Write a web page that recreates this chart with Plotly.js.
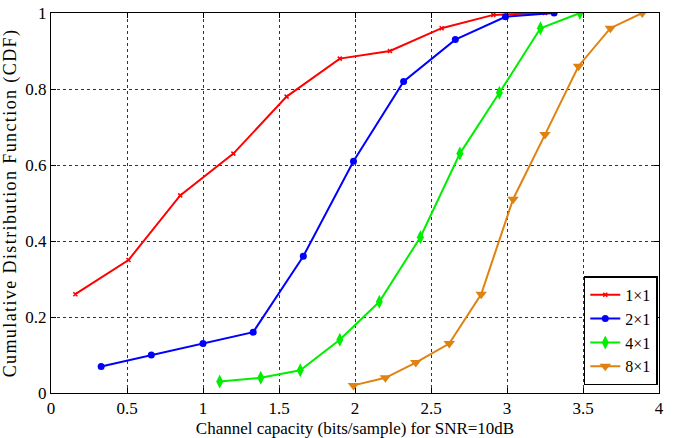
<!DOCTYPE html>
<html>
<head>
<meta charset="utf-8">
<script src="https://cdn.plot.ly/plotly-3.0.1.min.js"></script>
<style>
  html, body { margin: 0; padding: 0; background: #fff; }
  #chart { width: 676px; height: 438px; }
  .ytitle { letter-spacing: 1.4px; }
</style>
</head>
<body>
<div id="chart"></div>
<script>
// Channel capacity CDF for different antenna configurations at SNR = 10 dB
const seriesNames = ['1\u00d71', '2\u00d71', '4\u00d71', '8\u00d71'];

const cap1x1 = [0.16, 0.51, 0.85, 1.20, 1.55, 1.90, 2.23, 2.57, 2.91, 3.25];
const cdf1x1 = [0.26, 0.35, 0.52, 0.63, 0.78, 0.88, 0.90, 0.96, 0.995, 1.0];

const cap2x1 = [0.33, 0.66, 1.00, 1.33, 1.66, 1.99, 2.32, 2.66, 2.99, 3.31];
const cdf2x1 = [0.07, 0.10, 0.13, 0.16, 0.36, 0.61, 0.82, 0.93, 0.99, 1.0];

const cap4x1 = [1.11, 1.38, 1.64, 1.90, 2.16, 2.43, 2.69, 2.95, 3.22, 3.48];
const cdf4x1 = [0.03, 0.04, 0.06, 0.14, 0.24, 0.41, 0.63, 0.79, 0.96, 1.0];

const cap8x1 = [1.99, 2.20, 2.40, 2.62, 2.83, 3.04, 3.25, 3.47, 3.68, 3.89];
const cdf8x1 = [0.02, 0.04, 0.08, 0.13, 0.26, 0.51, 0.68, 0.86, 0.96, 1.0];

const xTicks = [0, 0.5, 1, 1.5, 2, 2.5, 3, 3.5, 4];
const xTickText = ['0', '0.5', '1', '1.5', '2', '2.5', '3', '3.5', '4'];
const yTicks = [0, 0.2, 0.4, 0.6, 0.8, 1];
const yTickText = ['0', '0.2', '0.4', '0.6', '0.8', '1'];

const serif = 'Liberation Serif';

const traces = [
  { x: cap1x1, y: cdf1x1, name: seriesNames[0], mode: 'lines+markers',
    line: { color: '#ff0000', width: 2 },
    marker: { symbol: 'x-thin-open', size: 4, color: '#ff0000', line: { color: '#ff0000', width: 1.5 } } },
  { x: cap2x1, y: cdf2x1, name: seriesNames[1], mode: 'lines+markers',
    line: { color: '#0000ff', width: 2 },
    marker: { symbol: 'circle', size: 7, color: '#0000ff' } },
  { x: cap4x1, y: cdf4x1, name: seriesNames[2], mode: 'lines+markers',
    line: { color: '#00ee00', width: 2 },
    marker: { symbol: 'diamond-tall', size: 10, color: '#00ee00' } },
  { x: cap8x1, y: cdf8x1, name: seriesNames[3], mode: 'lines+markers',
    line: { color: '#e0820f', width: 2 },
    marker: { symbol: 'triangle-down', size: 10, color: '#e0820f' } }
];

const axisCommon = {
  showline: true, linecolor: '#000', linewidth: 1, mirror: 'ticks',
  ticks: 'inside', ticklen: 5, tickcolor: '#000',
  showgrid: true, gridcolor: '#333', gridwidth: 1, griddash: 'dot',
  zeroline: false,
  tickfont: { family: serif, size: 17, color: '#000' }
};

const layout = {
  width: 676, height: 438,
  margin: { l: 51, r: 17, t: 13, b: 45 },
  paper_bgcolor: '#fff', plot_bgcolor: '#fff',
  font: { family: serif, color: '#000' },
  showlegend: true,
  legend: {
    x: 0.998, y: 0.02, xanchor: 'right', yanchor: 'bottom',
    bgcolor: '#fff', bordercolor: '#000', borderwidth: 1.5,
    font: { family: serif, size: 16, color: '#000' },
    tracegroupgap: 0, itemwidth: 30
  },
  xaxis: Object.assign({}, axisCommon, {
    range: [0, 4], tickvals: xTicks, ticktext: xTickText,
    title: { text: 'Channel capacity (bits/sample) for SNR=10dB', font: { family: serif, size: 17, color: '#000' }, standoff: 4 }
  }),
  yaxis: Object.assign({}, axisCommon, {
    range: [0, 1], tickvals: yTicks, ticktext: yTickText,
    title: { text: 'Cumulative Distribution Function (CDF)', font: { family: serif, size: 18, color: '#000' }, standoff: 8 }
  })
};

Plotly.newPlot('chart', traces, layout, { displayModeBar: false, staticPlot: true });
</script>
</body>
</html>
